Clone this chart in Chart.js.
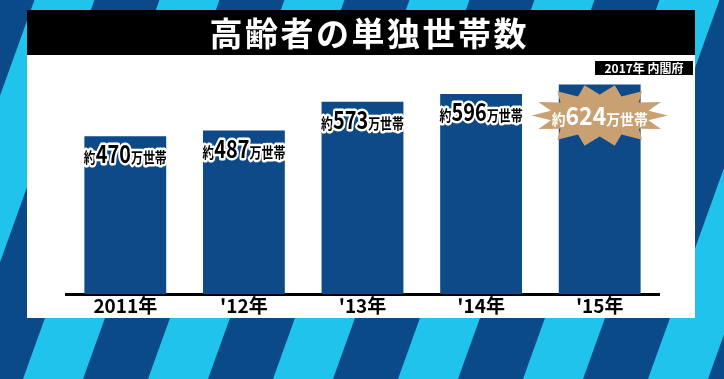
<!DOCTYPE html>
<html>
<head>
<meta charset="utf-8">
<script src="https://cdn.jsdelivr.net/npm/chart.js@4"></script>
<style>
  html, body { margin: 0; padding: 0; background: #0b4a88; }
  #wrap { width: 724px; height: 379px; position: relative; }
</style>
</head>
<body>
<div id="wrap"><canvas id="chartSingleHouseholds"></canvas></div>
<script>
const years = ['2011年', "'12年", "'13年", "'14年", "'15年"]
const households = [470, 487, 573, 596, 624]   // 万世帯
const title = '高齢者の単独世帯数'
const source = '2017年 内閣府'

const FONT = '"Noto Sans CJK JP", "Noto Sans", sans-serif'
const NAVY = '#0b4a88'
const CYAN = '#1fc3ec'

// background stripes, title bar and white panel
const backdrop = {
  id: 'backdrop',
  beforeDraw(chart) {
    const ctx = chart.ctx
    const W = chart.width, H = chart.height
    ctx.save()
    ctx.fillStyle = NAVY
    ctx.fillRect(0, 0, W, H)
    ctx.fillStyle = CYAN
    const slope = 0.36
    for (let k = -3; k < 8; k++) {
      const x0 = 23 + 125 * k
      ctx.beginPath()
      ctx.moveTo(x0, H)
      ctx.lineTo(x0 + 60, H)
      ctx.lineTo(x0 + 60 + H * slope, 0)
      ctx.lineTo(x0 + H * slope, 0)
      ctx.closePath()
      ctx.fill()
    }
    ctx.fillStyle = '#000'
    ctx.fillRect(27, 10, 668, 45)
    ctx.fillStyle = '#fff'
    ctx.fillRect(27, 55, 668, 263)

    // title
    ctx.font = 'bold 33px ' + FONT
    ctx.textAlign = 'center'
    ctx.textBaseline = 'middle'
    const pitch = 35.5
    for (let i = 0; i < title.length; i++) {
      ctx.fillText(title[i], 368 + (i - (title.length - 1) / 2) * pitch, 33)
    }

    // source tag
    ctx.fillStyle = '#000'
    ctx.fillRect(595, 61, 98, 14)
    ctx.fillStyle = '#fff'
    ctx.font = 'bold 12px ' + FONT
    ctx.fillText(source, 644, 68.5)
    ctx.restore()
  }
}

function drawLabel(ctx, value, cx, cy, maxW, outline, color) {
  const parts = [
    {t: '約', f: 'bold 15px ' + FONT},
    {t: String(value), f: 'bold 25px ' + FONT},
    {t: '万世帯', f: 'bold 15px ' + FONT}
  ]
  let total = 0
  parts.forEach(p => { ctx.font = p.f; p.w = ctx.measureText(p.t).width; total += p.w })
  const sx = Math.min(1, maxW / total)
  ctx.save()
  ctx.translate(cx, cy)
  ctx.scale(sx, 1)
  ctx.textBaseline = 'alphabetic'
  ctx.textAlign = 'left'
  let x = -total / 2
  parts.forEach(p => {
    ctx.font = p.f
    if (outline) {
      ctx.lineJoin = 'round'
      ctx.lineWidth = 5
      ctx.strokeStyle = '#fff'
      ctx.strokeText(p.t, x, 8)
    }
    ctx.fillStyle = color
    ctx.fillText(p.t, x, 8)
    x += p.w
  })
  ctx.restore()
}

function burst(ctx, cx, cy, spikes, rxo, ryo, rxi, ryi) {
  ctx.beginPath()
  for (let i = 0; i < spikes * 2; i++) {
    const a = Math.PI * i / spikes
    const o = i % 2 === 0
    const x = cx + Math.cos(a) * (o ? rxo : rxi)
    const y = cy + Math.sin(a) * (o ? ryo : ryi)
    i === 0 ? ctx.moveTo(x, y) : ctx.lineTo(x, y)
  }
  ctx.closePath()
  ctx.fill()
}

const barLabels = {
  id: 'barLabels',
  afterDatasetsDraw(chart) {
    const ctx = chart.ctx
    const bars = chart.getDatasetMeta(0).data
    bars.forEach((bar, i) => {
      const v = households[i]
      if (i === bars.length - 1) {
        ctx.save()
        ctx.fillStyle = '#c9a072'
        burst(ctx, bar.x, bar.y + 31, 14, 68, 31, 50, 21)
        ctx.restore()
        drawLabel(ctx, v, bar.x, bar.y + 32, 96, false, '#fff')
      } else {
        drawLabel(ctx, v, bar.x, bar.y + 19, 83, true, '#000')
      }
    })
  }
}

new Chart(document.getElementById('chartSingleHouseholds'), {
  type: 'bar',
  data: {
    labels: years,
    datasets: [{
      data: households,
      backgroundColor: '#0d4a87',
      barPercentage: 0.69,
      categoryPercentage: 1
    }]
  },
  options: {
    responsive: true,
    maintainAspectRatio: false,
    animation: false,
    layout: {padding: {left: 66, right: 65, top: 59, bottom: 62}},
    plugins: {legend: {display: false}, tooltip: {enabled: false}},
    scales: {
      y: {display: false, min: 0, max: 700},
      x: {
        grid: {display: false, drawTicks: false},
        border: {color: '#000', width: 3},
        ticks: {color: '#000', padding: 0, font: {family: FONT, size: 19, weight: 'bold'}}
      }
    }
  },
  plugins: [backdrop, barLabels]
});
</script>
</body>
</html>
